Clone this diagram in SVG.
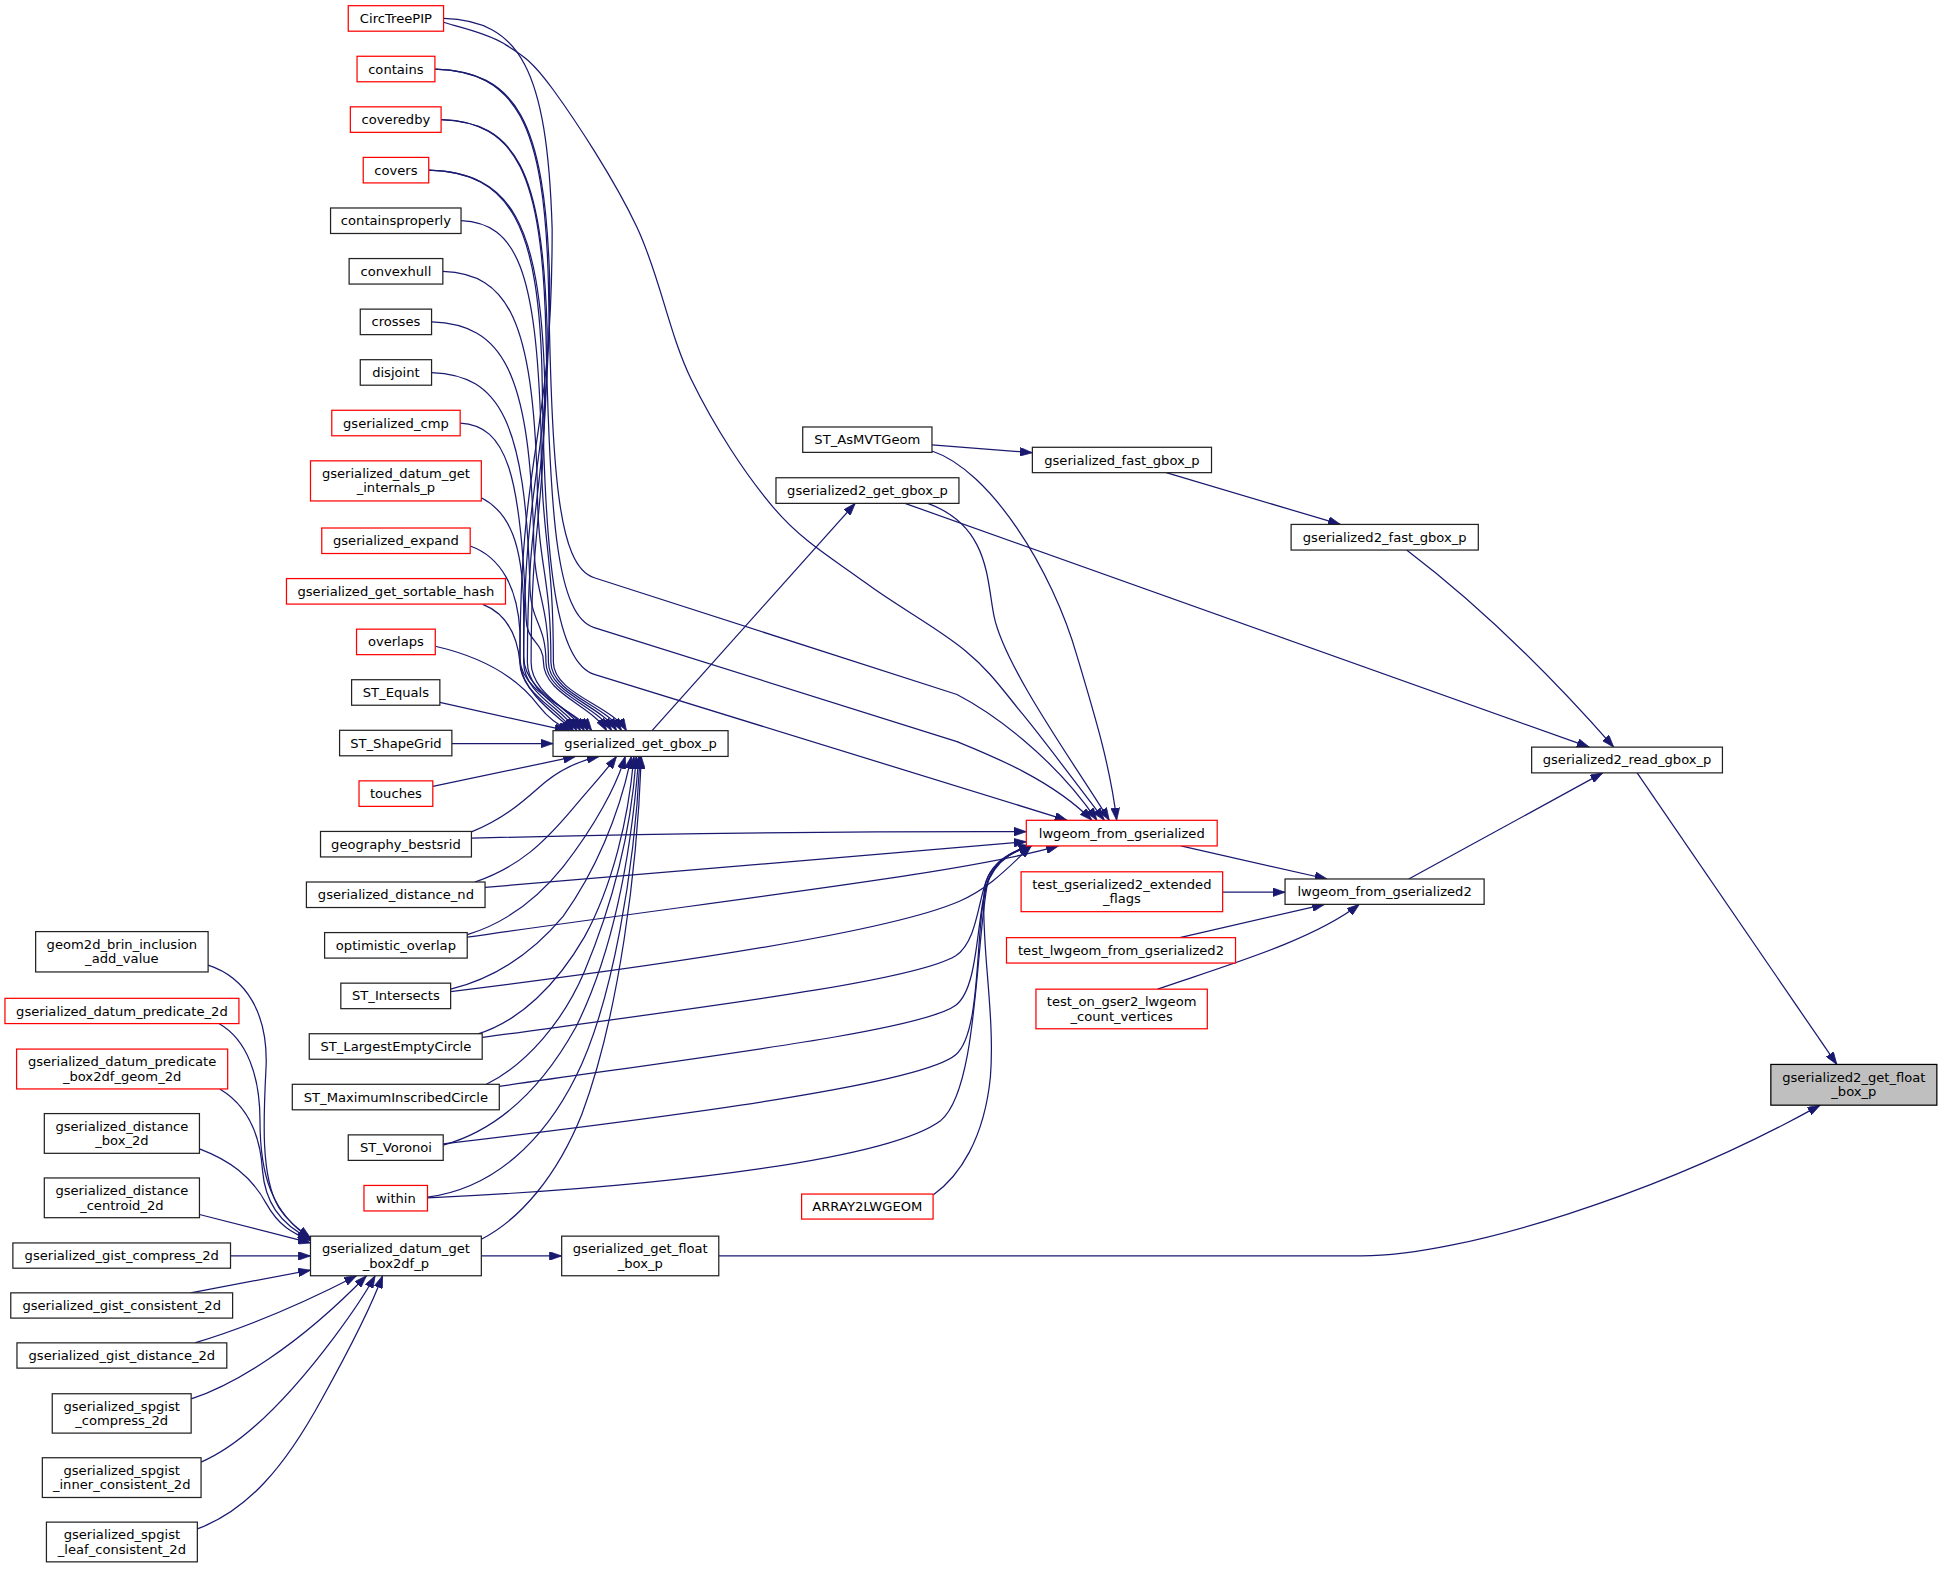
<svg xmlns="http://www.w3.org/2000/svg" width="1941" height="1575" viewBox="0 0 1941 1575">
<defs>
<marker id="ah" viewBox="0 0 10 7" refX="10" refY="3.5" markerWidth="10" markerHeight="7" markerUnits="userSpaceOnUse" orient="auto"><path d="M0,0 L10,3.5 L0,7 Z" fill="#191970" stroke="#191970" stroke-width="0.6"/></marker>
</defs>
<style>
.e path{fill:none;stroke:#191970;stroke-width:1;marker-end:url(#ah)}
.n rect{fill:#ffffff;stroke:#222222;stroke-width:1}
.n.r rect{stroke:#ff0000}
.n.root rect{fill:#bfbfbf;stroke:#000000}
.n text{font-family:"DejaVu Sans","Liberation Sans",sans-serif;font-size:10.6px;text-anchor:middle;fill:#000000}
</style>
<rect x="0" y="0" width="1941" height="1575" fill="#ffffff"/>
<g transform="scale(1.238)">
<g id="connectors" class="e">
<path d="M358.3,14.9 C419.7,16.9 442,54.9 446,184.9 C446,360 420,360 420,535 C420,560 451,572 463,590.2"/>
<path d="M351.3,55.8 C416.2,57.8 440,95.8 444,225.8 C444,380 423,380 423,535 C423,560 454,572 466,590.2"/>
<path d="M356.3,96.6 C416.3,98.6 438,136.6 442,266.6 C442,400 426,400 426,535 C426,560 457,572 469,590.2"/>
<path d="M346.3,137.5 C411.9,139.5 436,177.5 440,307.5 C440,420 429,420 429,535 C429,560 460,572 472,590.2"/>
<path d="M372.4,178.3 C417.6,180.3 433,218.3 437,348.3 C437,440 447,440 447,535 C447,560 494,570 506,590.2"/>
<path d="M357.7,219.2 C411.1,221.2 430,259.2 434,389.2 C434,460 445,460 445,535 C445,560 490,570 502,590.2"/>
<path d="M348.6,260 C406.3,262 427,300 431,430 C431,482 443,482 443,535 C443,560 486,570 498,590.2"/>
<path d="M348.6,300.9 C404.2,302.9 424,340.9 428,470.9 C428,503 441,503 441,535 C441,560 482,570 494,590.2"/>
<path d="M371.7,341.7 C409,343.7 421,381.7 425,500 C425,518 439,518 439,535 C439,560 478,570 490,590.2"/>
<path d="M388.8,402 C412,414 422,440 423,490 L423,530 C423,560 463,572 475,590.2"/>
<path d="M379.8,441 C405,450 418,475 420,510 L420,532 C420,560 466,574 478,590.2"/>
<path d="M390,488.2 C410,496 418,515 420,535 C422,560 450,578 463,590.2"/>
<path d="M351.6,522 C395,532 420,550 435,570 C442,579 450,586 461,590.2"/>
<path d="M355.3,567.4 L458,590.2"/>
<path d="M365,600.6 L446.7,600.6"/>
<path d="M349.6,635.2 L465,611"/>
<path d="M380.8,672 C410,660 425,645 440,632 C455,620 470,614 484,611"/>
<path d="M383.5,712.5 C420,700 440,680 462,654 C478,635 490,622 498,611"/>
<path d="M377.5,755 C410,745 435,725 455,700 C480,668 498,635 505,611"/>
<path d="M364,799 C400,790 430,770 455,740 C480,705 500,660 510,611"/>
<path d="M385,835.5 C420,825 450,795 472,757 C495,715 508,660 512,611"/>
<path d="M392.5,876 C425,860 455,825 472,785 C495,730 510,670 514,611"/>
<path d="M358,925 C405,912 440,875 465,830 C495,770 510,690 516,611"/>
<path d="M345.3,967 C400,960 440,920 465,870 C495,810 513,700 517,611"/>
<path d="M388.8,1001 C420,985 450,950 470,900 C500,820 515,700 518,611"/>
<path d="M351.3,55.8 C416.2,57.8 440,98 443,230 C446,380 450,457 480,466.7 L773,561 C800,575 850,610 886,662.6"/>
<path d="M356.3,96.6 C416.3,98.6 438,138 441,270 C444,420 450,497.7 480,507 L773,599 C800,610 850,630 882,662.6"/>
<path d="M346.3,137.5 C411.9,139.5 436,180 438,310 C440,460 450,535.4 480,544.7 L862,662.6"/>
<path d="M358.3,18 C366.4,20.8 391.8,25.9 406.6,35 C421.4,44.1 429.05,48 447,72.7 C464.95,97.4 495.7,144.05 514.3,183.1 C532.9,222.15 540.07,269.05 558.6,307 C577.13,344.95 602.07,383.5 625.5,410.8 C648.93,438.1 673.53,451.68 699.2,470.8 C724.87,489.92 758.3,507.75 779.5,525.5 C800.7,543.25 807.65,554.45 826.4,577.3 C845.15,600.15 881.07,648.38 892,662.6"/>
<path d="M749.4,406.6 C800,425 797,470 803,498 C812,540 870,620 896,662.6"/>
<path d="M752.8,364.3 C800,380 850,460 870,530 C885,580 897,620 902,662.6"/>
<path d="M380.8,677 C550,673 700,671.5 829,671.8"/>
<path d="M391.8,716.8 L829,679.9"/>
<path d="M377.5,757 C600,725 780,705 855,683.3"/>
<path d="M364,801 C550,778 720,752 775,728 C800,717 815,700 833,683.3"/>
<path d="M389.5,838 C580,812 740,792 772,772 C790,760 790,725 798,708 C805,694 818,687 833,683.3"/>
<path d="M403.3,877.5 C580,852 745,832 772,812 C792,797 788,735 799,709 C806,694 818,687 833,683.3"/>
<path d="M358,924 C560,900 745,875 772,852 C795,832 786,740 799,710 C806,695 818,687 833,683.3"/>
<path d="M345.3,967.6 C550,958 720,935 760,905 C790,880 788,760 798,712 C804,695 818,687 833,683.3"/>
<path d="M754,965 C775,950 795,920 800,870 C804,820 792,760 795,720 C797,700 812,690 833,683.3"/>
<path d="M526.7,590.2 L690.8,406.6"/>
<path d="M752.8,359.4 L833.9,365.7"/>
<path d="M942,381.8 L1082.7,423.6"/>
<path d="M1136.2,444.3 C1170,470 1230,520 1303.5,603.5"/>
<path d="M731,406.6 L1283.8,603.5"/>
<path d="M1137.9,710 L1294.6,624.3"/>
<path d="M953.8,683.3 L1072,710"/>
<path d="M987.6,720.7 L1038,720.7"/>
<path d="M953,757.4 L1070,730.5"/>
<path d="M935,799 C990,780 1060,760 1098,730.5"/>
<path d="M1322.4,624.3 L1483.7,859.8"/>
<path d="M580.6,1014.5 L1100,1014.5 C1180,1014.5 1340,965 1470.2,892.7"/>
<path d="M388.8,1014.5 L453.7,1014.5"/>
<path d="M168.1,779.6 C200,790 216,820 215,860 C213,900 210,950 225,975 C232,986 240,992 250.8,1000"/>
<path d="M176.8,826.8 C200,840 210,870 210,905 C210,950 220,980 250.8,1000.5"/>
<path d="M177.5,879.6 C200,893 210,915 212,945 C214,970 225,988 250.8,1001"/>
<path d="M161.1,928 C185,937 203,950 215,972 C225,990 236,996 250.8,1002"/>
<path d="M161.1,981 L250.8,1004"/>
<path d="M186.2,1014.5 L250.8,1014.5"/>
<path d="M154,1044.3 L250.8,1026"/>
<path d="M157.4,1084.7 C200,1072 250,1050 288,1030.5"/>
<path d="M154.4,1130 C190,1118 240,1088 296,1030.5"/>
<path d="M162.4,1181 C200,1165 240,1120 270,1080 C285,1060 295,1045 303,1030.5"/>
<path d="M159.4,1235 C200,1220 230,1185 260,1130 C285,1085 300,1055 309,1030.5"/>
</g>
<g id="node-CircTreePIP" class="n r"><rect x="281.3" y="4.6" width="77" height="20.6"/><text x="319.8" y="18.6">CircTreePIP</text></g>
<g id="node-contains" class="n r"><rect x="288.4" y="45.45" width="62.9" height="20.6"/><text x="319.8" y="59.45">contains</text></g>
<g id="node-coveredby" class="n r"><rect x="283" y="86.3" width="73.3" height="20.6"/><text x="319.8" y="100.3">coveredby</text></g>
<g id="node-covers" class="n r"><rect x="293.4" y="127.15" width="52.9" height="20.6"/><text x="319.8" y="141.15">covers</text></g>
<g id="node-containsproperly" class="n"><rect x="267" y="168" width="105.4" height="20.6"/><text x="319.8" y="182">containsproperly</text></g>
<g id="node-convexhull" class="n"><rect x="282" y="208.85" width="75.7" height="20.6"/><text x="319.8" y="222.85">convexhull</text></g>
<g id="node-crosses" class="n"><rect x="291" y="249.7" width="57.6" height="20.6"/><text x="319.8" y="263.7">crosses</text></g>
<g id="node-disjoint" class="n"><rect x="291" y="290.55" width="57.6" height="20.6"/><text x="319.8" y="304.55">disjoint</text></g>
<g id="node-gserialized_cmp" class="n r"><rect x="268" y="331.4" width="103.7" height="20.6"/><text x="319.8" y="345.4">gserialized_cmp</text></g>
<g id="node-gserialized_datum_get_internals_p" class="n r"><rect x="250.8" y="372.25" width="138" height="32.4"/><text x="319.8" y="386.3">gserialized_datum_get</text><text x="319.8" y="397.8">_internals_p</text></g>
<g id="node-gserialized_expand" class="n r"><rect x="259.9" y="426.5" width="119.9" height="20.6"/><text x="319.8" y="440.5">gserialized_expand</text></g>
<g id="node-gserialized_get_sortable_hash" class="n r"><rect x="231.4" y="467.35" width="176.9" height="20.6"/><text x="319.8" y="481.35">gserialized_get_sortable_hash</text></g>
<g id="node-overlaps" class="n r"><rect x="288" y="508.2" width="63.6" height="20.6"/><text x="319.8" y="522.2">overlaps</text></g>
<g id="node-ST_Equals" class="n"><rect x="284" y="549.05" width="71.3" height="20.6"/><text x="319.8" y="563.05">ST_Equals</text></g>
<g id="node-ST_ShapeGrid" class="n"><rect x="274.3" y="589.9" width="90.7" height="20.6"/><text x="319.8" y="603.9">ST_ShapeGrid</text></g>
<g id="node-touches" class="n r"><rect x="290" y="630.75" width="59.6" height="20.6"/><text x="319.8" y="644.75">touches</text></g>
<g id="node-geography_bestsrid" class="n"><rect x="258.9" y="671.6" width="121.9" height="20.6"/><text x="319.8" y="685.6">geography_bestsrid</text></g>
<g id="node-gserialized_distance_nd" class="n"><rect x="247.5" y="712.45" width="144.3" height="20.6"/><text x="319.8" y="726.45">gserialized_distance_nd</text></g>
<g id="node-optimistic_overlap" class="n"><rect x="262.2" y="753.3" width="115.2" height="20.6"/><text x="319.8" y="767.3">optimistic_overlap</text></g>
<g id="node-ST_Intersects" class="n"><rect x="275.3" y="794.15" width="88.7" height="20.6"/><text x="319.8" y="808.15">ST_Intersects</text></g>
<g id="node-ST_LargestEmptyCircle" class="n"><rect x="249.8" y="835" width="139.7" height="20.6"/><text x="319.8" y="849">ST_LargestEmptyCircle</text></g>
<g id="node-ST_MaximumInscribedCircle" class="n"><rect x="236.1" y="875.85" width="167.2" height="20.6"/><text x="319.8" y="889.85">ST_MaximumInscribedCircle</text></g>
<g id="node-ST_Voronoi" class="n"><rect x="281.3" y="916.7" width="76.7" height="20.6"/><text x="319.8" y="930.7">ST_Voronoi</text></g>
<g id="node-within" class="n r"><rect x="294" y="957.55" width="51.3" height="20.6"/><text x="319.8" y="971.55">within</text></g>
<g id="node-gserialized_datum_get_box2df_p" class="n"><rect x="250.8" y="998.5" width="138" height="32"/><text x="319.8" y="1012.5">gserialized_datum_get</text><text x="319.8" y="1024">_box2df_p</text></g>
<g id="node-geom2d_brin_inclusion_add_value" class="n"><rect x="28.8" y="752.5" width="139.3" height="32.6"/><text x="98.45" y="766.5">geom2d_brin_inclusion</text><text x="98.45" y="778">_add_value</text></g>
<g id="node-gserialized_datum_predicate_2d" class="n r"><rect x="4" y="806.4" width="189" height="20.4"/><text x="98.5" y="820.4">gserialized_datum_predicate_2d</text></g>
<g id="node-gserialized_datum_predicate_box2df_geom_2d" class="n r"><rect x="13.4" y="847.4" width="170.5" height="32.2"/><text x="98.65" y="861.4">gserialized_datum_predicate</text><text x="98.65" y="872.9">_box2df_geom_2d</text></g>
<g id="node-gserialized_distance_box_2d" class="n"><rect x="35.8" y="899.5" width="125.3" height="32.1"/><text x="98.45" y="913.5">gserialized_distance</text><text x="98.45" y="925">_box_2d</text></g>
<g id="node-gserialized_distance_centroid_2d" class="n"><rect x="35.8" y="951.5" width="125.3" height="32.1"/><text x="98.45" y="965.5">gserialized_distance</text><text x="98.45" y="977">_centroid_2d</text></g>
<g id="node-gserialized_gist_compress_2d" class="n"><rect x="10.4" y="1004" width="175.8" height="20.4"/><text x="98.3" y="1018">gserialized_gist_compress_2d</text></g>
<g id="node-gserialized_gist_consistent_2d" class="n"><rect x="8.7" y="1044.3" width="179.2" height="20.4"/><text x="98.3" y="1058.3">gserialized_gist_consistent_2d</text></g>
<g id="node-gserialized_gist_distance_2d" class="n"><rect x="13.7" y="1084.7" width="169.5" height="20.4"/><text x="98.45" y="1098.7">gserialized_gist_distance_2d</text></g>
<g id="node-gserialized_spgist_compress_2d" class="n"><rect x="42.2" y="1125.8" width="112.2" height="31.8"/><text x="98.3" y="1139.8">gserialized_spgist</text><text x="98.3" y="1151.3">_compress_2d</text></g>
<g id="node-gserialized_spgist_inner_consistent_2d" class="n"><rect x="34.2" y="1177.5" width="128.2" height="32.1"/><text x="98.3" y="1191.5">gserialized_spgist</text><text x="98.3" y="1203">_inner_consistent_2d</text></g>
<g id="node-gserialized_spgist_leaf_consistent_2d" class="n"><rect x="37.5" y="1229.5" width="121.9" height="32.1"/><text x="98.45" y="1243.5">gserialized_spgist</text><text x="98.45" y="1255">_leaf_consistent_2d</text></g>
<g id="node-gserialized_get_gbox_p" class="n"><rect x="446.7" y="590.2" width="141.4" height="20.8"/><text x="517.4" y="604.4">gserialized_get_gbox_p</text></g>
<g id="node-gserialized_get_float_box_p" class="n"><rect x="453.7" y="998.5" width="126.9" height="32"/><text x="517.15" y="1012.5">gserialized_get_float</text><text x="517.15" y="1024">_box_p</text></g>
<g id="node-ST_AsMVTGeom" class="n"><rect x="648.4" y="344.9" width="104.4" height="20.5"/><text x="700.6" y="358.9">ST_AsMVTGeom</text></g>
<g id="node-gserialized2_get_gbox_p" class="n"><rect x="626.8" y="385.9" width="147.8" height="20.7"/><text x="700.7" y="399.9">gserialized2_get_gbox_p</text></g>
<g id="node-gserialized_fast_gbox_p" class="n"><rect x="833.9" y="361.3" width="144.7" height="20.5"/><text x="906.25" y="375.3">gserialized_fast_gbox_p</text></g>
<g id="node-lwgeom_from_gserialized" class="n r"><rect x="829" y="662.6" width="154.2" height="20.7"/><text x="906.1" y="676.6">lwgeom_from_gserialized</text></g>
<g id="node-test_gserialized2_extended_flags" class="n r"><rect x="824.8" y="704.2" width="162.8" height="32.2"/><text x="906.2" y="718.2">test_gserialized2_extended</text><text x="906.2" y="729.7">_flags</text></g>
<g id="node-test_lwgeom_from_gserialized2" class="n r"><rect x="813" y="757.4" width="185" height="20.5"/><text x="905.5" y="771.4">test_lwgeom_from_gserialized2</text></g>
<g id="node-test_on_gser2_lwgeom_count_vertices" class="n r"><rect x="836.8" y="799" width="138.4" height="32"/><text x="906" y="813">test_on_gser2_lwgeom</text><text x="906" y="824.5">_count_vertices</text></g>
<g id="node-ARRAY2LWGEOM" class="n r"><rect x="647.5" y="964.5" width="106.2" height="20.2"/><text x="700.6" y="978.3">ARRAY2LWGEOM</text></g>
<g id="node-gserialized2_fast_gbox_p" class="n"><rect x="1042.9" y="423.6" width="151.2" height="20.7"/><text x="1118.5" y="437.6">gserialized2_fast_gbox_p</text></g>
<g id="node-lwgeom_from_gserialized2" class="n"><rect x="1038" y="710" width="160.8" height="20.5"/><text x="1118.4" y="724">lwgeom_from_gserialized2</text></g>
<g id="node-gserialized2_read_gbox_p" class="n"><rect x="1237.2" y="603.5" width="154.1" height="20.8"/><text x="1314.25" y="617.5">gserialized2_read_gbox_p</text></g>
<g id="node-gserialized2_get_float_box_p" class="n root"><rect x="1430.4" y="859.8" width="134.1" height="32.9"/><text x="1497.45" y="874">gserialized2_get_float</text><text x="1497.45" y="885.5">_box_p</text></g>
</g>
</svg>
